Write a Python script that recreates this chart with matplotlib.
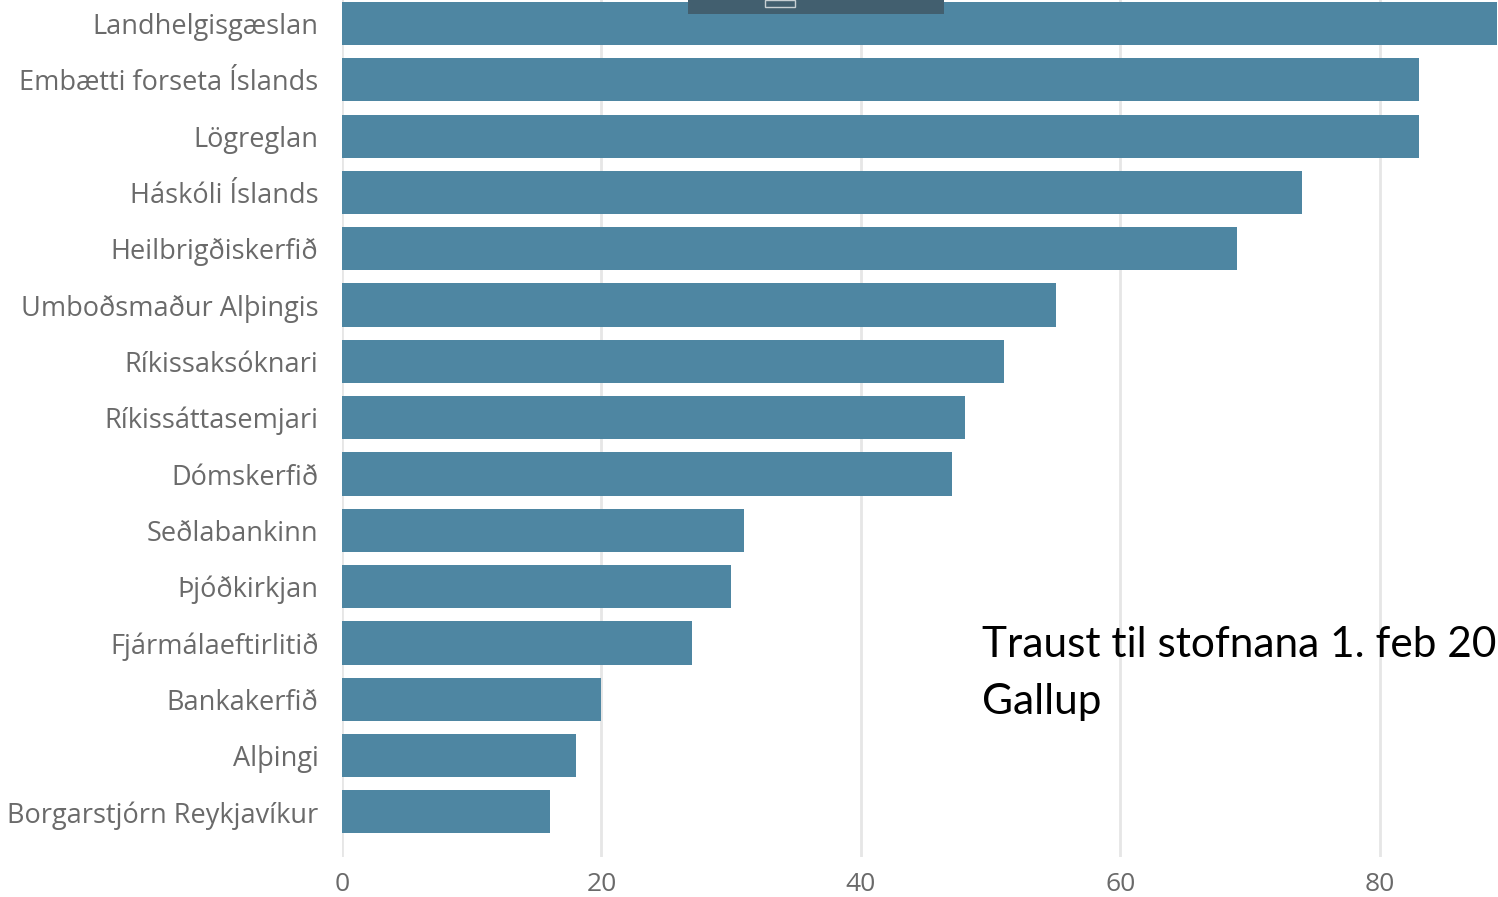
import matplotlib
matplotlib.use("Agg")
import matplotlib.pyplot as plt
from matplotlib.patches import Rectangle

categories = [
    "Landhelgisgæslan", "Embætti forseta Íslands", "Lögreglan", "Háskóli Íslands",
    "Heilbrigðiskerfið", "Umboðsmaður Alþingis", "Ríkissaksóknari", "Ríkissáttasemjari",
    "Dómskerfið", "Seðlabankinn", "Þjóðkirkjan", "Fjármálaeftirlitið",
    "Bankakerfið", "Alþingi", "Borgarstjórn Reykjavíkur",
]
values = [89, 83, 83, 74, 69, 55, 51, 48, 47, 31, 30, 27, 20, 18, 16]
xticks = [0, 20, 40, 60, 80]
note_line1 = "Traust til stofnana 1. feb 2018"
note_line2 = "Gallup"

W, H = 1498, 897
fig = plt.figure(figsize=(W / 100, H / 100), dpi=100)
fig.patch.set_facecolor("white")

ax = fig.add_axes([342 / W, 1 - 857 / H, 1 - 342 / W, 857 / H])
ypos = list(range(len(categories)))
ax.barh(ypos, values, height=0.765, color="#4e86a2", zorder=2)
ax.set_xlim(0, 89.1)
ax.set_ylim(14.8, -0.416)
ax.set_yticks(ypos)
ax.set_yticklabels(categories, fontsize=19.5, color="#6a6a6a", family=["Open Sans", "DejaVu Sans"])
ax.set_xticks(xticks)
ax.set_xticklabels([str(t) for t in xticks], fontsize=19, color="#6a6a6a", family=["Open Sans", "DejaVu Sans"])
ax.tick_params(axis="both", length=0)
ax.tick_params(axis="y", pad=17)
ax.tick_params(axis="x", pad=11)
ax.grid(axis="x", color="#e6e6e6", linewidth=2, zorder=0)
for s in ax.spines.values():
    s.set_visible(False)

fig.text(982 / W, 1 - 657 / H, note_line1, fontsize=30.5, family="Lato", color="black",
         ha="left", va="baseline")
fig.text(982 / W, 1 - 714 / H, note_line2, fontsize=30.5, family="Lato", color="black",
         ha="left", va="baseline")

# toolbar overlay at top
fig.patches.append(Rectangle((688 / W, 1 - 14 / H), 256 / W, 14 / H, transform=fig.transFigure,
                             facecolor="#425f6f", edgecolor="none", zorder=10))
fig.patches.append(Rectangle((765 / W, 1 - 7 / H), 30 / W, 7 / H, transform=fig.transFigure,
                             facecolor="none", edgecolor="#c8d0d4", linewidth=1, zorder=11))

fig.savefig("out.png", dpi=100)
